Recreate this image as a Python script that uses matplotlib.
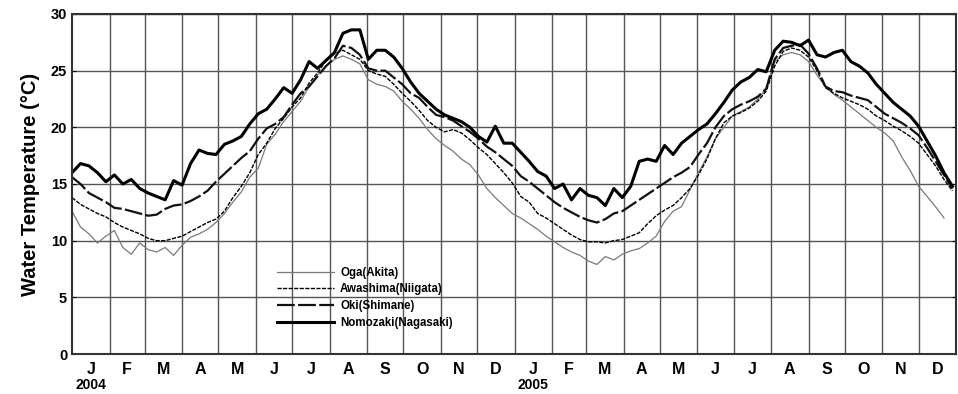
import numpy as np
import matplotlib
matplotlib.use('Agg')
import matplotlib.pyplot as plt

plt.rcParams['font.family'] = ['Liberation Sans', 'DejaVu Sans']

# weekly readings (deg C), first value on 1 Jan 2004
oga = [12.6, 11.2, 10.6, 9.8, 10.4, 10.9, 9.4, 8.8, 9.8, 9.2, 9.0, 9.4, 8.7, 9.6, 10.3,
       10.6, 11.0, 11.6, 12.4, 13.4, 14.3, 15.6, 16.4, 18.5, 19.4, 20.5, 21.4, 22.3, 23.6,
       24.6, 25.4, 26.0, 26.3, 26.0, 25.6, 24.2, 23.8, 23.6, 23.2, 22.3, 21.6, 20.8, 19.8,
       19.0, 18.4, 17.9, 17.2, 16.7, 15.8, 14.6, 13.8, 13.1, 12.4, 12.0, 11.5, 11.0, 10.4,
       9.9, 9.4, 9.0, 8.7, 8.2, 7.9, 8.6, 8.3, 8.8, 9.1, 9.3, 9.8, 10.4, 11.7, 12.6, 13.0,
       14.5, 16.0, 17.4, 19.0, 20.0, 21.0, 21.4, 21.8, 22.5, 23.4, 25.8, 26.4, 26.6, 26.4,
       25.8, 24.6, 23.6, 22.9, 22.4, 21.8, 21.2, 20.6, 20.0, 19.5, 18.8, 17.4, 16.2, 14.8,
       13.9, 13.0, 12.0]
awashima = [13.8, 13.2, 12.8, 12.4, 12.1, 11.6, 11.2, 10.9, 10.6, 10.2, 10.0, 10.0, 10.2,
            10.4, 10.8, 11.2, 11.6, 11.9, 12.6, 13.8, 14.8, 16.0, 17.6, 18.6, 19.9, 20.8,
            21.8, 22.6, 23.9, 24.8, 25.9, 26.5, 26.8, 26.4, 26.0, 25.0, 24.7, 24.5, 23.8,
            23.0, 22.3, 21.5, 20.6, 20.0, 19.6, 19.8, 19.5, 18.9, 18.2, 17.6, 16.8, 16.0,
            15.1, 13.9, 13.4, 12.4, 12.0, 11.5, 11.0, 10.5, 10.1, 9.9, 9.9, 9.8, 10.0, 10.1,
            10.4, 10.7, 11.5, 12.2, 12.7, 13.1, 13.8, 14.6, 15.8, 17.2, 19.0, 20.4, 21.0,
            21.3, 21.7, 22.3, 23.2, 25.4, 26.7, 27.0, 26.8, 26.2, 25.0, 23.5, 23.0, 22.6,
            22.3, 22.0, 21.6, 21.0, 20.6, 20.1, 19.7, 19.2, 18.6, 17.6, 16.6, 15.4, 14.4]
oki = [15.6, 15.0, 14.2, 13.8, 13.4, 12.9, 12.8, 12.6, 12.4, 12.2, 12.3, 12.8, 13.1, 13.2,
       13.5, 13.9, 14.4, 15.2, 15.9, 16.6, 17.3, 17.9, 19.0, 19.9, 20.3, 20.9, 22.0, 23.0,
       23.6, 24.5, 25.4, 26.1, 27.2, 27.0, 26.4, 25.2, 25.0, 25.0, 24.4, 23.8, 23.0, 22.6,
       21.8, 21.1, 20.9, 20.6, 20.1, 19.6, 19.0, 18.3, 17.8, 17.2, 16.6, 15.7, 15.2, 14.6,
       14.0, 13.4, 12.9, 12.5, 12.1, 11.8, 11.6, 11.9, 12.4, 12.6, 13.1, 13.6, 14.1, 14.6,
       15.1, 15.6, 16.0, 16.5, 17.6, 18.6, 20.0, 21.0, 21.6, 22.0, 22.3, 22.7, 23.4, 26.0,
       27.0, 27.2, 27.3, 26.5, 25.2, 23.6, 23.2, 23.1, 22.8, 22.6, 22.4, 21.8, 21.2, 20.8,
       20.4, 19.9, 19.3, 18.2, 17.0, 15.8, 14.6]
nomozaki = [16.0, 16.8, 16.6, 16.0, 15.2, 15.8, 15.0, 15.4, 14.6, 14.2, 13.9, 13.6, 15.3,
            14.9, 16.8, 18.0, 17.7, 17.6, 18.5, 18.8, 19.2, 20.3, 21.2, 21.6, 22.5, 23.5,
            23.0, 24.2, 25.8, 25.2, 25.9, 26.6, 28.3, 28.6, 28.6, 26.0, 26.8, 26.8, 26.2,
            25.2, 24.0, 23.0, 22.3, 21.6, 21.1, 20.8, 20.5, 20.0, 19.2, 18.7, 20.1, 18.6,
            18.6, 17.8, 17.0, 16.1, 15.7, 14.6, 15.0, 13.6, 14.6, 14.0, 13.8, 13.1, 14.6,
            13.8, 14.8, 17.0, 17.2, 17.0, 18.4, 17.6, 18.6, 19.2, 19.8, 20.3, 21.2, 22.2,
            23.3, 24.0, 24.4, 25.1, 24.9, 26.8, 27.6, 27.5, 27.2, 27.7, 26.4, 26.2, 26.6,
            26.8, 25.8, 25.4, 24.8, 23.8, 23.0, 22.2, 21.6, 21.0, 20.1, 18.8, 17.5, 16.0, 14.8]

month_letters = ['J', 'F', 'M', 'A', 'M', 'J', 'J', 'A', 'S', 'O', 'N', 'D'] * 2
month_len = [31, 29, 31, 30, 31, 30, 31, 31, 30, 31, 30, 31,
             31, 28, 31, 30, 31, 30, 31, 31, 30, 31, 30, 31]

month_edges = np.concatenate([[0], np.cumsum(month_len)])
month_mid = (month_edges[:-1] + month_edges[1:]) / 2

fig = plt.figure(figsize=(9.58, 3.94), dpi=100)
ax = fig.add_axes([0.0752, 0.1015, 0.9228, 0.863])

ax.plot(np.arange(len(oga)) * 7, oga, color='#7a7a7a', lw=0.9, label='Oga(Akita)')
ax.plot(np.arange(len(awashima)) * 7, awashima, color='black', lw=1.0,
        dashes=(3, 1), label='Awashima(Niigata)')
ax.plot(np.arange(len(oki)) * 7, oki, color='#111111', lw=1.6,
        dashes=(8, 1.5), label='Oki(Shimane)')
ax.plot(np.arange(len(nomozaki)) * 7, nomozaki, color='black', lw=2.2,
        label='Nomozaki(Nagasaki)')

ax.set_xlim(0, month_edges[-1])
ax.set_ylim(0, 30)
ax.set_xticks(month_edges[1:-1])
ax.set_xticklabels([])
ax.set_xticks(month_mid, minor=True)
ax.set_xticklabels(month_letters, minor=True, fontsize=11.5, fontweight='bold')
ax.tick_params(axis='x', which='both', length=0, pad=6)
ax.set_yticks(range(0, 31, 5))
ax.set_yticklabels([str(v) for v in range(0, 31, 5)], fontsize=10.5, fontweight='bold')
ax.tick_params(axis='y', length=3, direction='in', right=True)
ax.grid(True, which='major', color='#555555', lw=1.0)
for s in ax.spines.values():
    s.set_linewidth(1.5)
    s.set_color('#333333')

ax.set_ylabel('Water Temperature (\u00b0C)', fontsize=14.5, fontweight='bold', labelpad=8)

ax.text(month_mid[0], -0.07, '2004', transform=ax.get_xaxis_transform(),
        ha='center', va='top', fontsize=10, fontweight='bold')
ax.text(month_mid[12], -0.07, '2005', transform=ax.get_xaxis_transform(),
        ha='center', va='top', fontsize=10, fontweight='bold')

leg = ax.legend(loc='upper left', bbox_to_anchor=(0.225, 0.274), frameon=False,
                handlelength=5.0, labelspacing=0.42, handletextpad=0.5,
                borderpad=0, prop={'size': 8.3, 'weight': 'bold'})

fig.savefig('out.png', dpi=100)
